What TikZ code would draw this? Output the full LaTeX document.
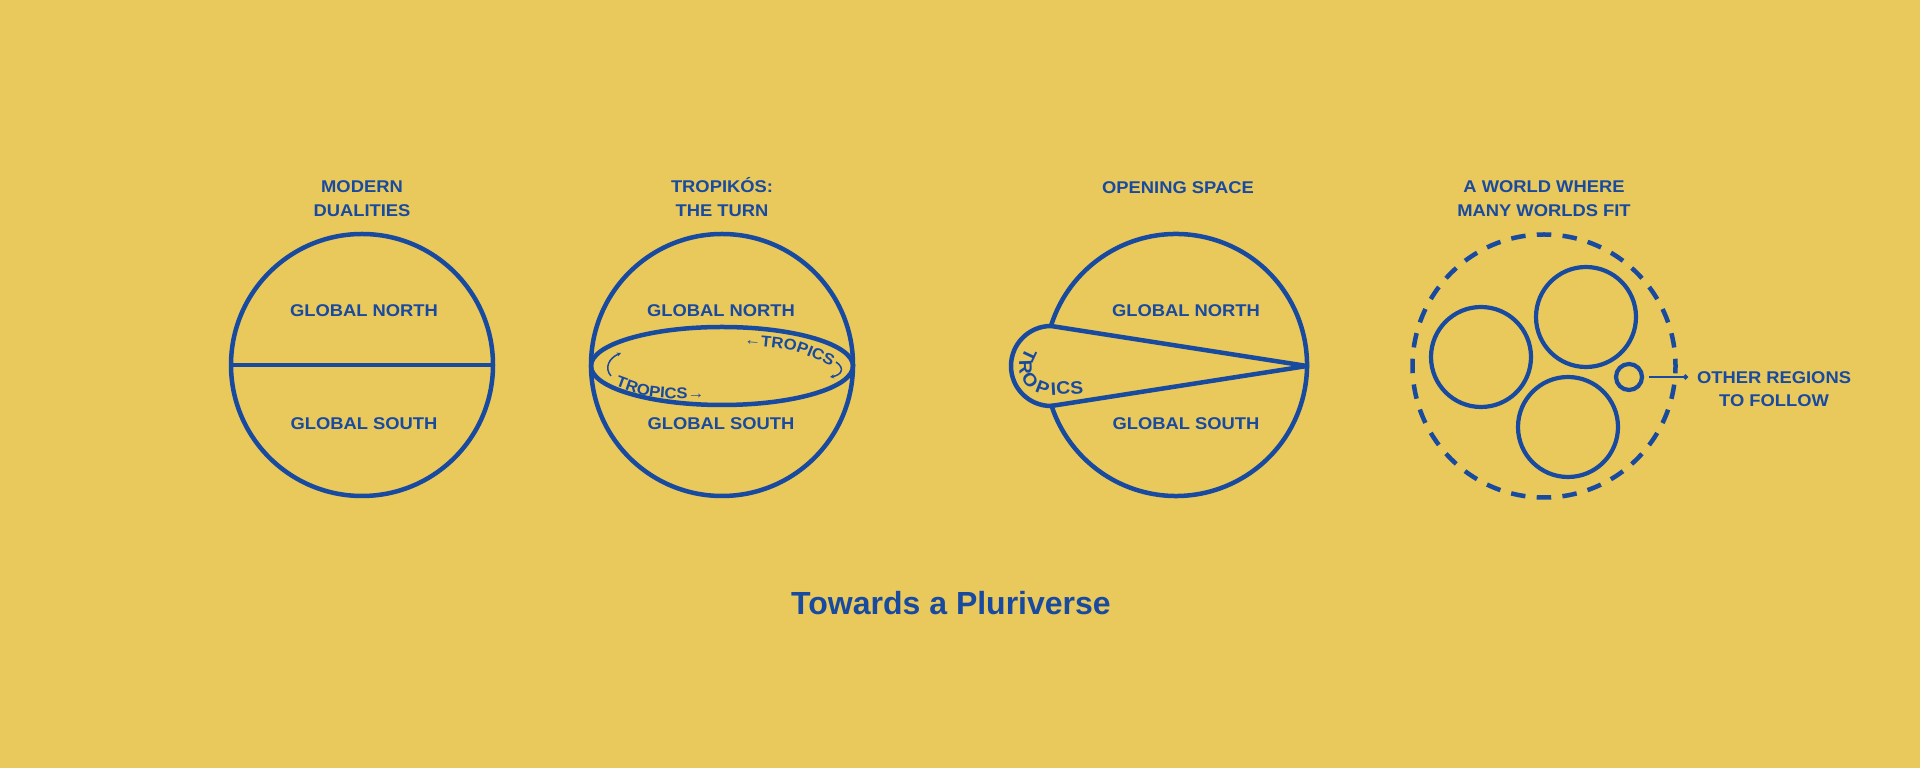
\documentclass[tikz,border=0pt]{standalone}
\usepackage{fontspec}
\setmainfont{Liberation Sans}
\newfontfamily\widefont[FakeStretch=1.08]{Liberation Sans}
\usetikzlibrary{arrows.meta}
\usetikzlibrary{positioning}
\usetikzlibrary{decorations.text}

\definecolor{mustard}{RGB}{233,200,92}
\definecolor{ink}{RGB}{24,74,160}
\newcommand{\tropfont}{\color{ink}\widefont\bfseries\fontsize{15.5}{18}\selectfont}

\tikzset{
  globe/.style={circle, draw=ink, line width=4.5pt, minimum size=262pt, inner sep=0pt},
  ring/.style={circle, draw=ink, line width=4.2pt, inner sep=0pt},
  lbl/.style={text=ink, font=\widefont\bfseries\fontsize{17}{23.5}\selectfont, inner sep=0pt, align=center},
  lobechar/.style={text=ink, font=\widefont\bfseries\fontsize{18}{20}\selectfont, inner sep=0pt},
  hook/.style={draw=ink, line width=1.5pt, -{Stealth[length=4pt,width=4pt]}},
}

\begin{document}
\begin{tikzpicture}[x=1pt,y=1pt]
\fill[mustard] (0,0) rectangle (1920,768);
\useasboundingbox (0,0) rectangle (1920,768);

% modern dualities
\node[globe] (g1) at (362,403) {};
\draw[ink, line width=4.5pt] (g1.west) -- (g1.east);
\node[lbl, above=15pt of g1] (t1) {MODERN\\DUALITIES};
\node[lbl, anchor=base] (n1) at (364,451) {GLOBAL NORTH};
\node[lbl, anchor=base] (s1) at (364,338) {GLOBAL SOUTH};

% the turn
\node[globe] (g2) at (722,403) {};
\draw[ink, line width=4.5pt] (722,402) ellipse [x radius=131, y radius=39];
\node[lbl, above=15pt of g2] (t2) {TROPIKÓS:\\THE TURN};
\node[lbl, anchor=base] (n2) at (721,451) {GLOBAL NORTH};
\node[lbl, anchor=base] (s2) at (721,338) {GLOBAL SOUTH};
\path[decorate, decoration={text along path, text={|\tropfont|←TROPICS}}]
  (744,423) .. controls (795,419) .. (840,397);
\path[decorate, decoration={text along path, text={|\tropfont|TROPICS→}}]
  (615,382) .. controls (650,369) .. (724,369);
\draw[hook] (836,406) .. controls (845,400) and (842,393) .. (830,391);
\draw[hook] (611,392) .. controls (604,400) and (609,410) .. (621,415);

% opening space
\coordinate (c3) at (1176,403);
\coordinate (lobe) at (1051,402);
\coordinate (tip) at (1307,402);
\draw[ink, line width=4.5pt] (c3) ++(162.7:131) arc[start angle=162.7, end angle=-162.7, radius=131];
\draw[ink, line width=4.5pt, line join=round] (tip) -- (1051,442)
  arc[start angle=90, end angle=270, radius=40] -- cycle;
\foreach \ch/\ang/\rad in {T/155/24, R/182/25.5, O/215/25.5, P/249/23.5}
  \node[lobechar, rotate=\ang+90] at ([shift={(\ang:\rad)}]lobe) {\ch};
\node[lobechar, rotate=3] (ics) at (1067,380) {ICS};
\node[lbl, anchor=base] (t3) at (1178,574) {OPENING SPACE};
\node[lbl, anchor=base] (n3) at (1186,451) {GLOBAL NORTH};
\node[lbl, anchor=base] (s3) at (1186,338) {GLOBAL SOUTH};

% many worlds
\draw[ink, line width=4.5pt, dash pattern=on 14.5pt off 11.32pt, dash phase=7.26pt] (1544,402) circle[radius=131.5];
\node[ring, minimum size=100pt] (w1) at (1481,411) {};
\node[ring, minimum size=100pt] (w2) at (1586,451) {};
\node[ring, minimum size=100pt] (w3) at (1568,341) {};
\node[ring, minimum size=26pt] (w4) at (1629,391) {};
\coordinate (dot) at (1688,391);
\draw[ink, line width=1.5pt, -{Circle[length=5pt]}] ([xshift=5pt]w4.east) -- (dot);
\node[lbl, anchor=south] (other) at (1774,360.7) {OTHER REGIONS\\TO FOLLOW};
\node[lbl, anchor=south] (t4) at (1544,551.3) {A WORLD WHERE\\MANY WORLDS FIT};

\node[text=ink, font=\bfseries\fontsize{32}{38}\selectfont, anchor=base] (caption) at (951,153) {Towards a Pluriverse};
\end{tikzpicture}
\end{document}
